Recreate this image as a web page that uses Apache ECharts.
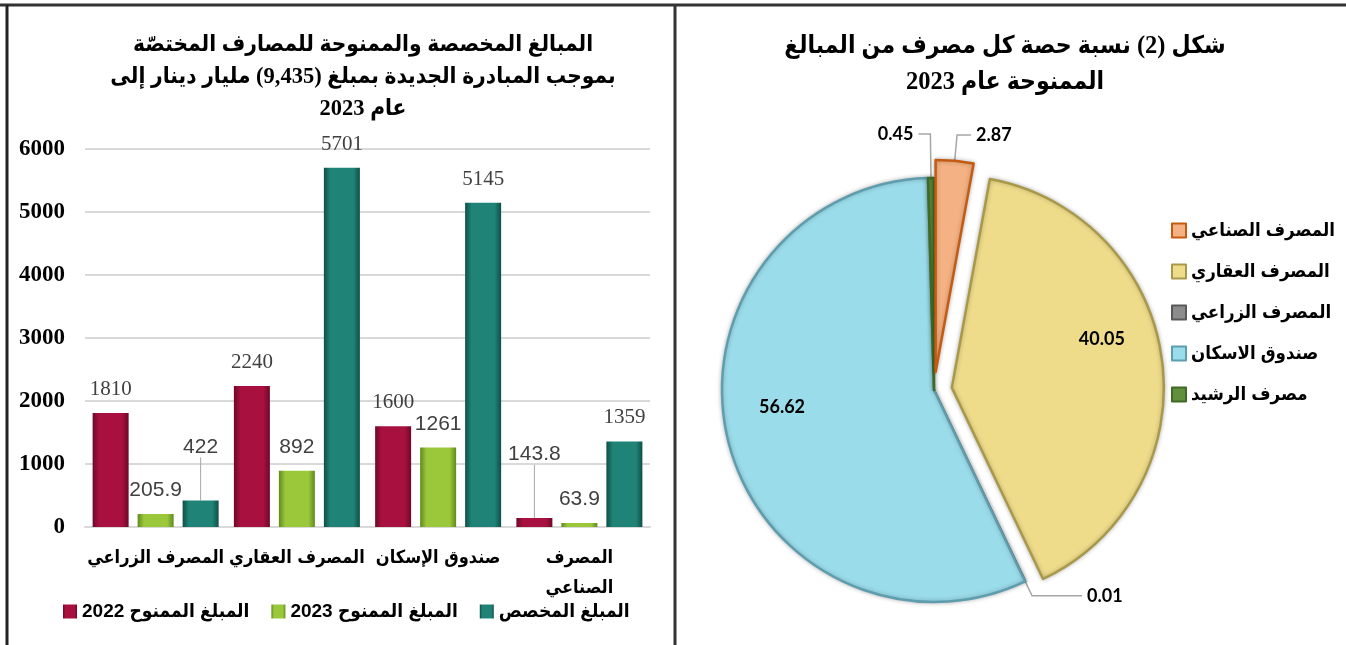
<!DOCTYPE html>
<html>
<head>
<meta charset="utf-8">
<script src="https://cdn.jsdelivr.net/npm/echarts@6/dist/echarts.min.js"></script>
<style>
  html, body { margin: 0; padding: 0; background: #fff; }
  #chart { width: 1346px; height: 645px; }
</style>
</head>
<body>
<div id="chart"></div>
<script>
// bar chart data
var categories = ["المصرف الزراعي", "المصرف العقاري", "صندوق الإسكان", "المصرف الصناعي"];
var granted2022 = [1810, 2240, 1600, 143.8];
var granted2023 = [205.9, 892, 1261, 63.9];
var allocated = [422, 5701, 5145, 1359];
var barSeriesNames = ["المبلغ الممنوح 2022", "المبلغ الممنوح 2023", "المبلغ المخصص"];
var yTicks = [0, 1000, 2000, 3000, 4000, 5000, 6000];

// pie chart data
var banks = ["المصرف الصناعي", "المصرف العقاري", "المصرف الزراعي", "صندوق الاسكان", "مصرف الرشيد"];
var shares = [2.87, 40.05, 0.01, 56.62, 0.45];

var serif = "'Liberation Serif', 'DejaVu Sans Condensed', 'DejaVu Sans', serif";
var sans = "'Liberation Sans', 'DejaVu Sans Condensed', 'DejaVu Sans', sans-serif";
var arabicBold = "'DejaVu Sans Condensed', 'DejaVu Sans', sans-serif";

function bevel(dark, main) {
  return new echarts.graphic.LinearGradient(0, 0, 1, 0, [
    { offset: 0, color: dark },
    { offset: 0.18, color: main },
    { offset: 0.82, color: main },
    { offset: 1, color: dark }
  ]);
}

// extra lift (px) for a few labels that sit higher with a guide line
var liftLabels = {
  0: { 3: 40 },
  2: { 0: 30 }
};

function barSeries(idx, values, dark, main, font) {
  return {
    name: barSeriesNames[idx],
    type: "bar",
    barWidth: 36,
    barGap: "25%",
    itemStyle: { color: bevel(dark, main) },
    label: {
      show: true,
      position: "top",
      distance: 13,
      fontFamily: font,
      fontSize: 21,
      color: "#404040"
    },
    labelLayout: function (p) {
      var lift = liftLabels[idx] && liftLabels[idx][p.dataIndex];
      return lift ? { dy: -lift } : {};
    },
    labelLine: { show: false, lineStyle: { color: "#a6a6a6", width: 1 } },
    data: values.map(function (v, i) {
      var lifted = liftLabels[idx] && liftLabels[idx][i];
      if (lifted) {
        return {
          value: v,
          label: { fontFamily: sans },
          labelLine: { show: true }
        };
      }
      return v;
    })
  };
}

var pieColors = ["#F4B183", "#EEDC8A", "#8C8C8C", "#9BDCEA", "#628F3C"];
var pieBorders = ["#C55A11", "#A8994A", "#595959", "#5E9DAE", "#3F6A25"];
var exploded = [true, true, false, false, false];
// inside labels (big slices) get nudged outward
var pieInsideShift = { 1: [42, -34], 3: [-46, -8] };
// guide line lengths for the small outside slices
var pieGuide = { 0: [26, 14], 2: [16, 50], 4: [44, 12] };

var chart = echarts.init(document.getElementById("chart"));

var option = {
  backgroundColor: "#fff",
  animation: false,
  title: [
    {
      text: "المبالغ المخصصة والممنوحة للمصارف المختصّة\nبموجب المبادرة الجديدة بمبلغ (9,435) مليار دينار إلى\nعام 2023",
      left: 358,
      top: 24,
      textAlign: "center",
      textStyle: {
        fontFamily: serif,
        fontWeight: "bold",
        fontSize: 22.5,
        lineHeight: 32,
        color: "#000"
      }
    },
    {
      text: "شكل (2) نسبة حصة كل مصرف من المبالغ\nالممنوحة عام 2023",
      left: 1000,
      top: 24,
      textAlign: "center",
      textStyle: {
        fontFamily: serif,
        fontWeight: "bold",
        fontSize: 24.5,
        lineHeight: 36,
        color: "#000"
      }
    }
  ],
  legend: [
    {
      data: barSeriesNames,
      left: 58,
      top: 597,
      itemWidth: 14,
      itemHeight: 14,
      itemGap: 22,
      icon: "rect",
      textStyle: { fontFamily: sans, fontWeight: "bold", fontSize: 19, color: "#000" }
    },
    {
      data: banks,
      orient: "vertical",
      left: 1166,
      top: 216,
      itemWidth: 14,
      itemHeight: 14,
      itemGap: 22,
      icon: "rect",
      textStyle: { fontFamily: sans, fontWeight: "bold", fontSize: 18.5, color: "#000" }
    }
  ],
  grid: {
    left: 85,
    right: 696,
    top: 149,
    bottom: 118
  },
  xAxis: {
    type: "category",
    data: categories,
    axisLine: { show: true, lineStyle: { color: "#d9d9d9", width: 2 } },
    axisTick: { show: false },
    axisLabel: {
      interval: 0,
      margin: 16,
      fontFamily: arabicBold,
      fontWeight: "bold",
      fontSize: 18,
      lineHeight: 30,
      color: "#000",
      formatter: function (v, i) {
        return i === categories.length - 1 ? v.replace(" ", "\n") : v;
      }
    }
  },
  yAxis: {
    type: "value",
    min: yTicks[0],
    max: yTicks[yTicks.length - 1],
    interval: 1000,
    axisLine: { show: false },
    axisTick: { show: false },
    splitLine: { lineStyle: { color: "#d9d9d9", width: 2 } },
    axisLabel: {
      margin: 20,
      fontFamily: serif,
      fontWeight: "bold",
      fontSize: 23,
      color: "#000",
      formatter: function (v) { return String(v); }
    }
  },
  series: [
    barSeries(0, granted2022, "#6E0828", "#A8113F", serif),
    barSeries(1, granted2023, "#5F8A1E", "#9BC83A", sans),
    barSeries(2, allocated, "#0E4F47", "#1F8477", serif),
    {
      type: "pie",
      center: [934, 390],
      radius: 212,
      startAngle: 90,
      clockwise: true,
      selectedMode: "multiple",
      selectedOffset: 18,
      avoidLabelOverlap: false,
      label: {
        show: true,
        position: "outside",
        fontFamily: "Lato, " + sans,
        fontWeight: "bold",
        fontSize: 18,
        color: "#000",
        formatter: "{c}"
      },
      labelLine: {
        show: true,
        length: 16,
        length2: 14,
        lineStyle: { color: "#a6a6a6", width: 1.5 }
      },
      labelLayout: function (p) {
        var s = pieInsideShift[p.dataIndex];
        return s ? { dx: s[0], dy: s[1] } : {};
      },
      emphasis: { scale: false },
      data: banks.map(function (name, i) {
        var item = {
          name: name,
          value: shares[i],
          selected: exploded[i],
          itemStyle: {
            color: pieColors[i],
            borderColor: pieBorders[i],
            borderWidth: 2.5,
            shadowColor: "rgba(0,0,0,0.25)",
            shadowBlur: 4
          }
        };
        if (pieInsideShift[i]) {
          item.label = { position: "inside" };
          item.labelLine = { show: false };
        } else if (pieGuide[i]) {
          item.labelLine = { length: pieGuide[i][0], length2: pieGuide[i][1] };
        }
        return item;
      })
    }
  ],
  color: ["#A8113F", "#9BC83A", "#1F8477"],
  graphic: [
    { type: "line", shape: { x1: 0, y1: 5, x2: 1346, y2: 5 }, style: { stroke: "#333", lineWidth: 3 } },
    { type: "line", shape: { x1: 7, y1: 5, x2: 7, y2: 645 }, style: { stroke: "#222", lineWidth: 3 } },
    { type: "line", shape: { x1: 675, y1: 5, x2: 675, y2: 645 }, style: { stroke: "#333", lineWidth: 3 } }
  ]
};

chart.setOption(option);
</script>
</body>
</html>
